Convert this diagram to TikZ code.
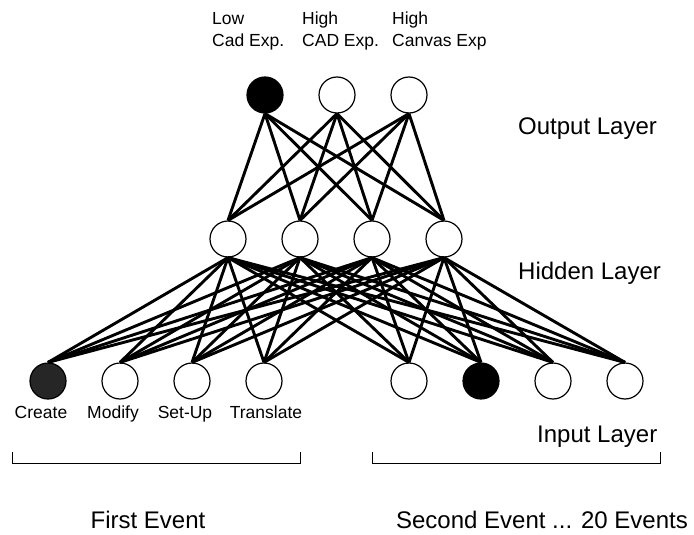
\documentclass[tikz,border=0pt]{standalone}
\usepackage{fontspec}
\setmainfont{Liberation Sans}
\usepackage{tikz}
\usetikzlibrary{positioning}

\begin{document}
\begin{tikzpicture}[x=1pt,y=-1pt,node distance=72pt,
  neuron/.style={circle,draw,line width=1.2pt,minimum size=36pt,inner sep=0pt,fill=white},
  link/.style={line width=2.9pt},
  small/.style={font=\fontsize{17.5}{22}\selectfont,inner sep=0pt},
  big/.style={font=\fontsize{24}{28}\selectfont,inner sep=0pt}]
\useasboundingbox (0,0) rectangle (694,535);

% input layer
\node[neuron,fill=black!85] (i1) at (48,381) {};
\node[neuron]               (i2) [right of=i1] {};
\node[neuron]               (i3) [right of=i2] {};
\node[neuron]               (i4) [right of=i3] {};
\node[neuron]               (i5) at (409,381)  {};
\node[neuron,fill=black]    (i6) [right of=i5] {};
\node[neuron]               (i7) [right of=i6] {};
\node[neuron]               (i8) [right of=i7] {};

% hidden layer
\node[neuron] (h1) at (228,239)    {};
\node[neuron] (h2) [right of=h1]   {};
\node[neuron] (h3) [right of=h2]   {};
\node[neuron] (h4) [right of=h3]   {};

% output layer
\node[neuron,fill=black] (o1) at (265,95)  {};
\node[neuron]            (o2) [right of=o1] {};
\node[neuron]            (o3) [right of=o2] {};

\foreach \i in {1,...,8}
  \foreach \j in {1,...,4}
    \draw[link] (i\i.north) -- (h\j.south);
\foreach \j in {1,...,4}
  \foreach \k in {1,...,3}
    \draw[link] (h\j.north) -- (o\k.south);

% output classes
\node[small,anchor=north west,align=left] (c1) at (212,12) {Low\\Cad Exp.};
\node[small,anchor=north west,align=left] (c2) at (302,12) {High\\CAD Exp.};
\node[small,anchor=north west,align=left] (c3) at (392,12) {High\\Canvas Exp};

% input names
\node[small,anchor=base] (n1) at (41,418)  {Create};
\node[small,anchor=base] (n2) at (113,418) {Modify};
\node[small,anchor=base] (n3) at (185,418) {Set-Up};
\node[small,anchor=base] (n4) at (266,418) {Translate};

% layer names
\node[big,anchor=base west] (lo) at (518,134) {Output Layer};
\node[big,anchor=base west] (lh) at (518,279) {Hidden Layer};
\node[big,anchor=base west] (li) at (537,442) {Input Layer};

% events
\draw[line width=0.8pt] (12,452) |- (300,463) -- (300,452);
\draw[line width=0.8pt] (372,452) |- (660,463) -- (660,452);
\node[big,anchor=base] (e1) at (148,528) {First Event};
\node[big,anchor=base] (e2) at (542,528) {Second Event ... 20 Events};
\end{tikzpicture}
\end{document}
